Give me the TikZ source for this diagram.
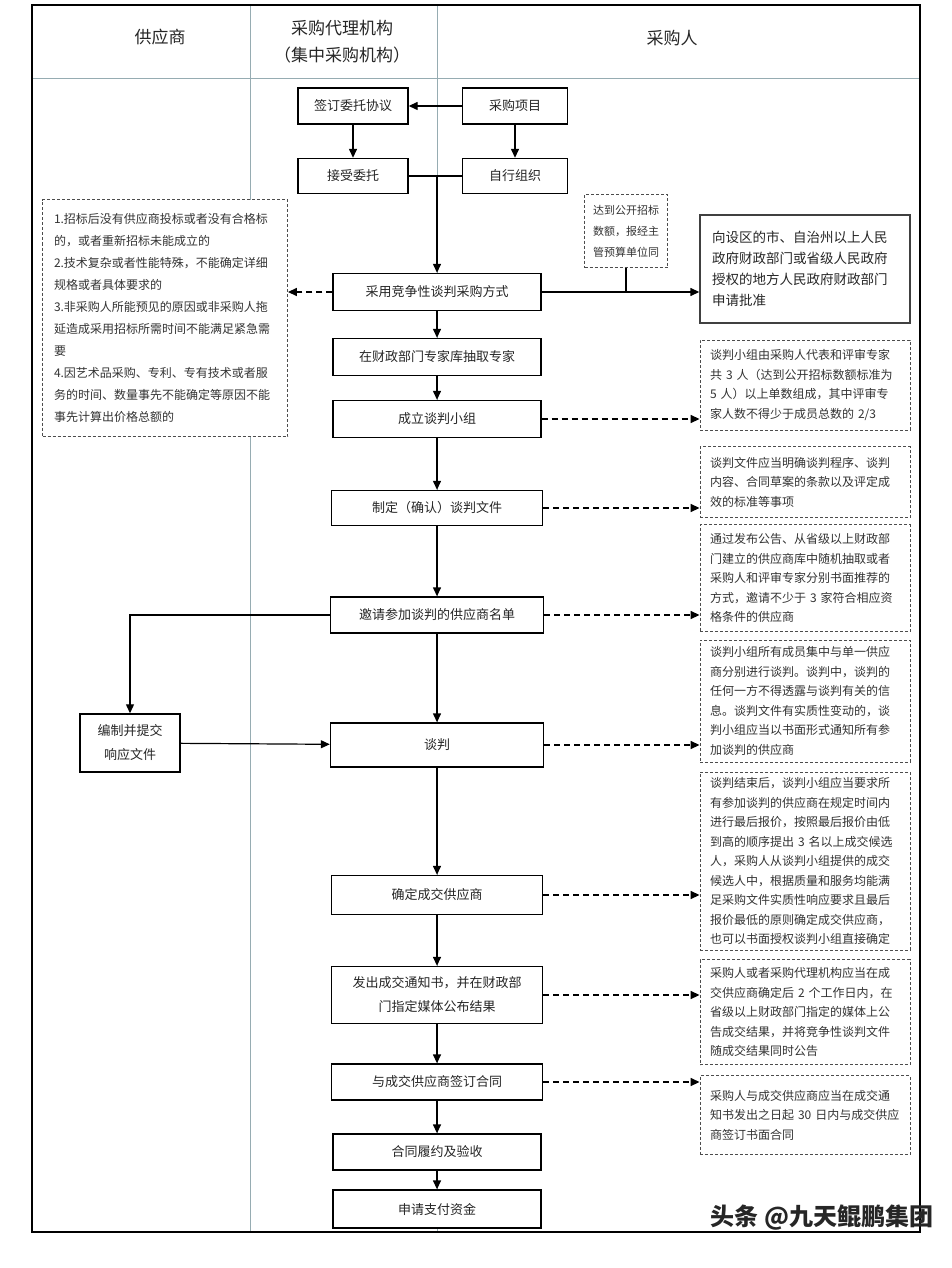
\documentclass[tikz,border=0pt]{standalone}
\usepackage{fontspec}
\setmainfont{Noto Sans CJK SC}
\usepackage{tikz}
\usetikzlibrary{arrows.meta}
\definecolor{rejilla}{RGB}{150,172,178}

\begin{document}
\begin{tikzpicture}[x=1pt, y=-1pt,
    >={Triangle[length=9pt,width=8pt]},
    caja/.style={draw=black, line width=1.4pt, fill=white, align=center, inner sep=2pt,
      text=black!85, font={\fontsize{13}{24}\selectfont}},
    nota/.style={draw=black!70, line width=0.9pt, dash pattern=on 3pt off 2pt, fill=white,
      align=left, inner sep=0pt, text=black!80, text width=190pt, minimum width=210pt,
      font={\fontsize{12}{19.5}\selectfont}},
    flecha/.style={line width=1.4pt, ->},
    flechad/.style={line width=1.6pt, dash pattern=on 6pt off 4pt, ->}]
    \useasboundingbox (0,0) rectangle (952,1268);

    % Marco y carriles
    \draw[rejilla, line width=0.8pt] (32,78) -- (920,78);
    \draw[rejilla, line width=0.8pt] (250,5) -- (250,1232);
    \draw[rejilla, line width=0.8pt] (437,5) -- (437,1232);
    \draw[black, line width=2pt] (32,5) rectangle (920,1232);

    % Cabecera
    \node[font={\fontsize{17}{27}\selectfont}, text=black!85] (hProv) at (160,37) {供应商};
    \node[font={\fontsize{17}{27}\selectfont}, text=black!85, align=center] (hAgen) at (342,42) {采购代理机构\\（集中采购机构）};
    \node[font={\fontsize{17}{27}\selectfont}, text=black!85] (hComp) at (672,38) {采购人};

    % Cajas del flujo
    \node[caja, minimum width=110pt, minimum height=36pt] (firma) at (353,106) {签订委托协议};
    \node[caja, minimum width=105pt, minimum height=36pt] (proyecto) at (515,106) {采购项目};
    \node[caja, minimum width=110pt, minimum height=35pt] (acepta) at (353,176) {接受委托};
    \node[caja, minimum width=105pt, minimum height=35pt] (propia) at (515,176) {自行组织};
    \node[caja, minimum width=208pt, minimum height=37pt] (metodo) at (437,292) {采用竞争性谈判采购方式};
    \node[caja, minimum width=208pt, minimum height=37pt] (expertos) at (437,357) {在财政部门专家库抽取专家};
    \node[caja, minimum width=208pt, minimum height=37pt] (grupo) at (437,419) {成立谈判小组};
    \node[caja, minimum width=211pt, minimum height=35pt] (documento) at (437,508) {制定（确认）谈判文件};
    \node[caja, minimum width=213pt, minimum height=36pt] (invita) at (437,615) {邀请参加谈判的供应商名单};
    \node[caja, minimum width=100pt, minimum height=58pt] (respuesta) at (130,743) {编制并提交\\响应文件};
    \node[caja, minimum width=213pt, minimum height=44pt] (negocia) at (437,745) {谈判};
    \node[caja, minimum width=211pt, minimum height=39pt] (adjudica) at (437,895) {确定成交供应商};
    \node[caja, minimum width=211pt, minimum height=57pt] (aviso) at (437,995) {发出成交通知书，并在财政部\\门指定媒体公布结果};
    \node[caja, minimum width=211pt, minimum height=36pt] (contrato) at (437,1082) {与成交供应商签订合同};
    \node[caja, minimum width=208pt, minimum height=36pt] (ejecuta) at (437,1152) {合同履约及验收};
    \node[caja, minimum width=208pt, minimum height=38pt] (pago) at (437,1209) {申请支付资金};
    \node[caja, draw=black!75, align=left, text width=186pt, minimum width=210pt, minimum height=108pt,
      inner sep=0pt, font={\fontsize{13.5}{21}\selectfont}] (aprueba) at (805,269)
      {向设区的市、自治州以上人民\\政府财政部门或省级人民政府\\授权的地方人民政府财政部门\\申请批准};

    % Notas
    \node[nota, text width=222pt, minimum width=245pt, minimum height=237pt,
      font={\fontsize{12}{22}\selectfont}] (casos) at (165,318)
      {1.招标后没有供应商投标或者没有合格标\\的，或者重新招标未能成立的\\2.技术复杂或者性能特殊，不能确定详细\\规格或者具体要求的\\3.非采购人所能预见的原因或非采购人拖\\延造成采用招标所需时间不能满足紧急需\\要\\4.因艺术品采购、专利、专有技术或者服\\务的时间、数量事先不能确定等原因不能\\事先计算出价格总额的};
    \node[nota, text width=66pt, minimum width=83pt, minimum height=73pt,
      font={\fontsize{11}{21}\selectfont}] (limite) at (626,231)
      {达到公开招标\\数额，报经主\\管预算单位同};
    \node[nota, minimum height=90pt] (nGrupo) at (805,385)
      {谈判小组由采购人代表和评审专家\\共 3 人（达到公开招标数额标准为\\5 人）以上单数组成，其中评审专\\家人数不得少于成员总数的 2/3};
    \node[nota, minimum height=71pt] (nDocumento) at (805,482)
      {谈判文件应当明确谈判程序、谈判\\内容、合同草案的条款以及评定成\\效的标准等事项};
    \node[nota, minimum height=107pt] (nInvita) at (805,578)
      {通过发布公告、从省级以上财政部\\门建立的供应商库中随机抽取或者\\采购人和评审专家分别书面推荐的\\方式，邀请不少于 3 家符合相应资\\格条件的供应商};
    \node[nota, minimum height=122pt] (nNegocia) at (805,701)
      {谈判小组所有成员集中与单一供应\\商分别进行谈判。谈判中，谈判的\\任何一方不得透露与谈判有关的信\\息。谈判文件有实质性变动的，谈\\判小组应当以书面形式通知所有参\\加谈判的供应商};
    \node[nota, minimum height=178pt] (nAdjudica) at (805,861)
      {谈判结束后，谈判小组应当要求所\\有参加谈判的供应商在规定时间内\\进行最后报价，按照最后报价由低\\到高的顺序提出 3 名以上成交候选\\人，采购人从谈判小组提供的成交\\候选人中，根据质量和服务均能满\\足采购文件实质性响应要求且最后\\报价最低的原则确定成交供应商，\\也可以书面授权谈判小组直接确定};
    \node[nota, minimum height=105pt] (nAviso) at (805,1012)
      {采购人或者采购代理机构应当在成\\交供应商确定后 2 个工作日内，在\\省级以上财政部门指定的媒体上公\\告成交结果，并将竞争性谈判文件\\随成交结果同时公告};
    \node[nota, minimum height=79pt] (nContrato) at (805,1115)
      {采购人与成交供应商应当在成交通\\知书发出之日起 30 日内与成交供应\\商签订书面合同};

    % Flechas del flujo
    \draw[flecha] (proyecto) -- (firma);
    \draw[flecha] (firma) -- (acepta);
    \draw[flecha] (proyecto) -- (propia);
    \draw[line width=1.4pt] (acepta) -- (propia);
    \draw[flecha] (metodo.north |- acepta.east) -- (metodo);
    \draw[flecha] (metodo) -- (expertos);
    \draw[flecha] (expertos) -- (grupo);
    \draw[flecha] (grupo) -- (documento);
    \draw[flecha] (documento) -- (invita);
    \draw[flecha] (invita) -- (negocia);
    \draw[flecha] (negocia) -- (adjudica);
    \draw[flecha] (adjudica) -- (aviso);
    \draw[flecha] (aviso) -- (contrato);
    \draw[flecha] (contrato) -- (ejecuta);
    \draw[flecha] (ejecuta) -- (pago);
    \draw[flecha, line width=1.2pt] (invita.west) -| (respuesta.north);
    \draw[flecha, line width=1.2pt] (respuesta) -- (negocia);
    \draw[flecha] (metodo.east) -- (aprueba.west |- metodo.east);
    \draw[line width=1.2pt] (limite.south) -- (limite.south |- metodo.east);

    % Flechas a trazos
    \draw[flechad] (metodo.west) -- (casos.east |- metodo.west);
    \draw[flechad] (grupo.east) -- (nGrupo.west |- grupo.east);
    \draw[flechad] (documento.east) -- (nDocumento.west |- documento.east);
    \draw[flechad] (invita.east) -- (nInvita.west |- invita.east);
    \draw[flechad] (negocia.east) -- (nNegocia.west |- negocia.east);
    \draw[flechad] (adjudica.east) -- (nAdjudica.west |- adjudica.east);
    \draw[flechad] (aviso.east) -- (nAviso.west |- aviso.east);
    \draw[flechad] (contrato.east) -- (nContrato.west |- contrato.east);

    % Marca de agua
    \node[font={\bfseries\fontsize{24}{24}\selectfont}, text=black!85] (marca) at (822,1218) {头条 @九天鲲鹏集团};
\end{tikzpicture}
\end{document}
